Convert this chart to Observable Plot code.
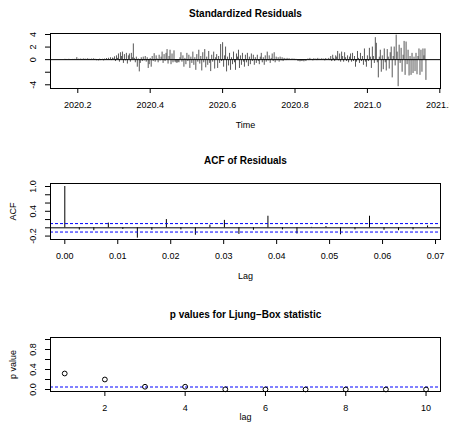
<!DOCTYPE html>
<html><head><meta charset="utf-8">
<script src="https://cdn.jsdelivr.net/npm/d3@7"></script>
<script src="https://cdn.jsdelivr.net/npm/@observablehq/plot@0.6"></script>
<style>
body{margin:0;background:#fff;}
#wrap{position:relative;width:449px;height:436px;background:#fff;overflow:hidden;}
#wrap svg{position:absolute;left:0;overflow:visible;}
</style></head><body><div id="wrap"></div>
<script>
// ---- Data ----
// Standardized residuals, daily series (frequency 365) starting 2020 + 60/365
const residStart = 2020 + 60 / 365;
const residFrequency = 365;
const residuals = [
  0.05,-0.08,0.03,-0.02,0.06,-0.04,0.02,-0.05,0.04,-0.03,
  0.05,-0.02,0.32,-0.06,0.08,-0.04,0.1,-0.07,0.05,0.12,
  -0.1,0.08,-0.05,0.15,-0.08,0.06,-0.12,0.1,-0.06,0.14,
  -0.1,0.05,-0.18,-0.05,-0.2,0.08,-0.15,-0.1,0.06,-0.2,
  0.1,-0.08,0.18,-0.12,0.22,-0.1,0.3,-0.15,0.25,0.1,
  0.45,-0.3,0.6,0.2,0.9,-0.4,1.1,0.5,1.2,-0.6,
  0.8,-0.2,1.0,-0.7,0.6,0.9,-0.4,1.0,0.3,2.5,
  0.2,-0.5,0.4,-1.2,0.1,-1.95,-0.6,0.3,-0.3,0.4,
  -0.2,0.5,-0.4,0.3,-1.4,-0.8,0.2,-1.2,0.5,-0.3,
  0.95,-0.4,0.6,0.1,-0.5,0.7,-0.2,0.4,1.2,-0.6,
  0.8,-0.3,1.0,1.6,-0.7,0.5,1.5,-0.8,0.9,-0.5,
  1.4,-0.4,-0.5,-0.6,-0.45,-0.5,0.3,1.1,-0.4,0.6,
  -1.2,0.2,-0.8,1.0,-0.3,0.7,-1.4,0.4,-0.6,1.2,
  -0.9,0.3,-1.7,0.8,-0.4,1.5,-0.7,0.5,-1.8,1.1,
  -0.5,1.6,-1.3,0.4,-0.9,1.3,-0.6,-1.9,0.7,-0.4,
  1.2,-1.5,0.3,0.8,-1.4,0.5,-0.6,2.4,-0.3,2.7,
  -1.2,0.6,2.0,-1.95,0.4,-1.0,1.0,-1.7,0.3,-0.8,
  1.2,-0.5,-1.7,0.9,0.4,1.5,-1.4,0.6,-0.9,1.0,
  -0.4,-1.2,0.7,-0.5,1.0,-1.1,0.4,-0.8,0.9,-0.3,
  0.7,-0.9,0.3,-0.6,0.7,-0.3,-0.8,0.4,1.0,-0.5,
  0.3,-0.9,0.6,-0.4,1.2,-0.2,0.6,-0.6,0.2,0.9,
  -0.3,1.1,-0.5,0.4,-0.2,0.3,-0.4,0.4,-0.2,0.3,
  -0.3,0.2,0.1,-0.15,0.2,-0.1,0.15,0.05,-0.1,0.12,
  -0.08,0.1,-0.15,0.05,-0.1,-0.3,-0.2,-0.35,-0.25,-0.3,
  -0.2,-0.35,-0.15,-0.3,-0.1,0.1,-0.15,0.2,-0.1,0.05,
  -0.2,0.15,-0.05,0.1,-0.15,0.2,-0.1,0.08,-0.12,0.15,
  -0.05,0.1,-0.2,0.18,-0.1,0.05,0.2,-0.15,0.5,-0.3,
  0.7,0.2,-0.3,0.6,0.4,1.3,-0.2,0.9,-0.4,1.2,
  0.5,-0.4,1.1,0.3,-0.3,0.6,-0.5,0.4,0.9,-0.4,
  1.0,-0.3,0.5,-1.2,-0.4,1.3,0.2,-0.6,1.0,-0.3,
  0.5,-0.9,1.7,-0.4,-1.2,0.6,-0.3,1.8,0.4,-1.4,
  2.0,0.5,-0.6,3.5,2.6,-0.5,-2.9,0.4,1.5,-2.0,
  0.6,-1.6,1.7,-0.5,-1.8,1.6,0.4,-1.5,1.1,2.0,
  -2.9,0.5,2.0,-1.0,3.9,1.2,-4.3,2.3,-0.6,1.8,
  -2.0,0.7,2.9,-2.5,2.8,-0.8,1.5,-2.6,0.5,-2.5,
  1.0,-2.2,0.4,-1.9,1.0,-2.4,0.5,1.7,-2.5,1.5,
  -2.0,1.7,0.6,1.7,-3.3
];
const residXTicks = [2020.2, 2020.4, 2020.6, 2020.8, 2021.0, 2021.2];
const residXTickLabels = ["2020.2", "2020.4", "2020.6", "2020.8", "2021.0", "2021.2"];
const residYTicks = [-4, -2, 0, 2, 4];
const residYTickLabels = ["-4", "", "0", "2", "4"];

// ACF of residuals, lags 0..25 (in days, shown in years)
const acfLagCounts = [0,1,2,3,4,5,6,7,8,9,10,11,12,13,14,15,16,17,18,19,20,21,22,23,24,25];
const acfValues = [1.0,-0.055,-0.07,0.115,-0.04,-0.25,-0.06,0.2,-0.05,-0.18,0.065,0.18,-0.16,-0.06,0.28,-0.05,-0.15,0.01,0.03,-0.17,-0.05,0.28,-0.06,-0.07,-0.05,0.045];
const acfBound = 0.1025;
const acfXTicks = [0, 0.01, 0.02, 0.03, 0.04, 0.05, 0.06, 0.07];
const acfXTickLabels = ["0.00", "0.01", "0.02", "0.03", "0.04", "0.05", "0.06", "0.07"];
const acfYTicks = [-0.2, 0, 0.2, 0.4, 0.6, 0.8, 1.0];
const acfYTickLabels = ["-0.2", "", "", "0.4", "", "", "1.0"];

// Ljung-Box p-values
const lbLags = [1,2,3,4,5,6,7,8,9,10];
const lbPValues = [0.32, 0.2, 0.055, 0.055, 0.004, 0.002, 0.001, 0.001, 0.001, 0.001];
const lbThreshold = 0.05;
const lbXTicks = [2, 4, 6, 8, 10];
const lbXTickLabels = ["2", "4", "6", "8", "10"];
const lbYTicks = [0, 0.2, 0.4, 0.6, 0.8, 1.0];
const lbYTickLabels = ["0.0", "", "0.4", "", "0.8", ""];

// ---- Build tables ----
const residTable = residuals.map((v, i) => ({t: residStart + i / residFrequency, v}));
const acfTable = acfLagCounts.map((k, i) => ({lag: k / residFrequency, acf: acfValues[i]}));
const lbTable = lbLags.map((k, i) => ({lag: k, p: lbPValues[i]}));

const FONT = '"Liberation Sans", Arial, Helvetica, sans-serif';
const W = 449;

function panel(o) {
  const yLab = o.yTicks.map((v, i) => ({v, s: o.yTickLabels[i]})).filter(d => d.s !== "");
  const marks = [
    ...o.marks,
    Plot.frame({stroke: "black", strokeWidth: 1}),
    Plot.axisX({ticks: o.xTicks, tickFormat: (d) => o.xTickLabels[o.xTicks.indexOf(d)], tickSize: 5, tickPadding: 8, fontSize: 9, label: null}),
    Plot.axisY({ticks: o.yTicks, tickFormat: () => "", tickSize: 5, label: null}),
    Plot.text(yLab, {y: "v", text: "s", frameAnchor: "left", dx: -17, rotate: -90, textAnchor: "middle", lineAnchor: "middle", fontSize: 9, fill: "black"}),
    Plot.text([o.title], {frameAnchor: "top", dy: o.titleDy, textAnchor: "middle", lineAnchor: "middle", fontWeight: "bold", fontSize: 10, fill: "black"}),
    Plot.text([o.xLabel], {frameAnchor: "bottom", dy: o.xLabelDy, textAnchor: "middle", lineAnchor: "middle", fontSize: 9, fill: "black"})
  ];
  if (o.yLabel) marks.push(Plot.text([o.yLabel], {frameAnchor: "left", dx: -37, rotate: -90, textAnchor: "middle", lineAnchor: "middle", fontSize: 9, fill: "black"}));
  const svg = Plot.plot({
    width: W,
    height: o.height,
    marginLeft: 50,
    marginRight: 9,
    marginTop: o.mTop,
    marginBottom: o.mBottom,
    x: {domain: o.xDomain},
    y: {domain: o.yDomain},
    style: {fontFamily: FONT, fontSize: "9px", background: "transparent", color: "black", overflow: "visible"},
    marks
  });
  svg.style.top = o.top + "px";
  document.getElementById("wrap").appendChild(svg);
}

panel({
  top: 0, height: 145, mTop: 33, mBottom: 57,
  xDomain: [2020.1246, 2021.2019], yDomain: [-4.59, 4.16],
  xTicks: residXTicks, xTickLabels: residXTickLabels,
  yTicks: residYTicks, yTickLabels: residYTickLabels,
  title: "Standardized Residuals", titleDy: -20,
  xLabel: "Time", xLabelDy: 37, yLabel: "",
  marks: [
    Plot.ruleX(residTable, {x: "t", y1: 0, y2: "v", stroke: "#444", strokeWidth: 0.9}),
    Plot.ruleY([0], {stroke: "black"})
  ]
});

panel({
  top: 145, height: 145, mTop: 38, mBottom: 51,
  xDomain: [-0.0027, 0.07094], yDomain: [-0.283, 1.073],
  xTicks: acfXTicks, xTickLabels: acfXTickLabels,
  yTicks: acfYTicks, yTickLabels: acfYTickLabels,
  title: "ACF of Residuals", titleDy: -23,
  xLabel: "Lag", xLabelDy: 37, yLabel: "ACF",
  marks: [
    Plot.ruleX(acfTable, {x: "lag", y1: 0, y2: "acf", stroke: "black", strokeWidth: 1}),
    Plot.ruleY([0], {stroke: "black"}),
    Plot.ruleY([acfBound, -acfBound], {stroke: "blue", strokeDasharray: "3,2"})
  ]
});

panel({
  top: 290, height: 146, mTop: 47, mBottom: 45,
  xDomain: [0.646, 10.36], yDomain: [-0.04, 1.04],
  xTicks: lbXTicks, xTickLabels: lbXTickLabels,
  yTicks: lbYTicks, yTickLabels: lbYTickLabels,
  title: "p values for Ljung\u2212Box statistic", titleDy: -23,
  xLabel: "lag", xLabelDy: 26, yLabel: "p value",
  marks: [
    Plot.ruleY([lbThreshold], {stroke: "blue", strokeDasharray: "3,2"}),
    Plot.dot(lbTable, {x: "lag", y: "p", r: 2.4, stroke: "black", strokeWidth: 1, fill: "none"})
  ]
});
</script></body></html>
